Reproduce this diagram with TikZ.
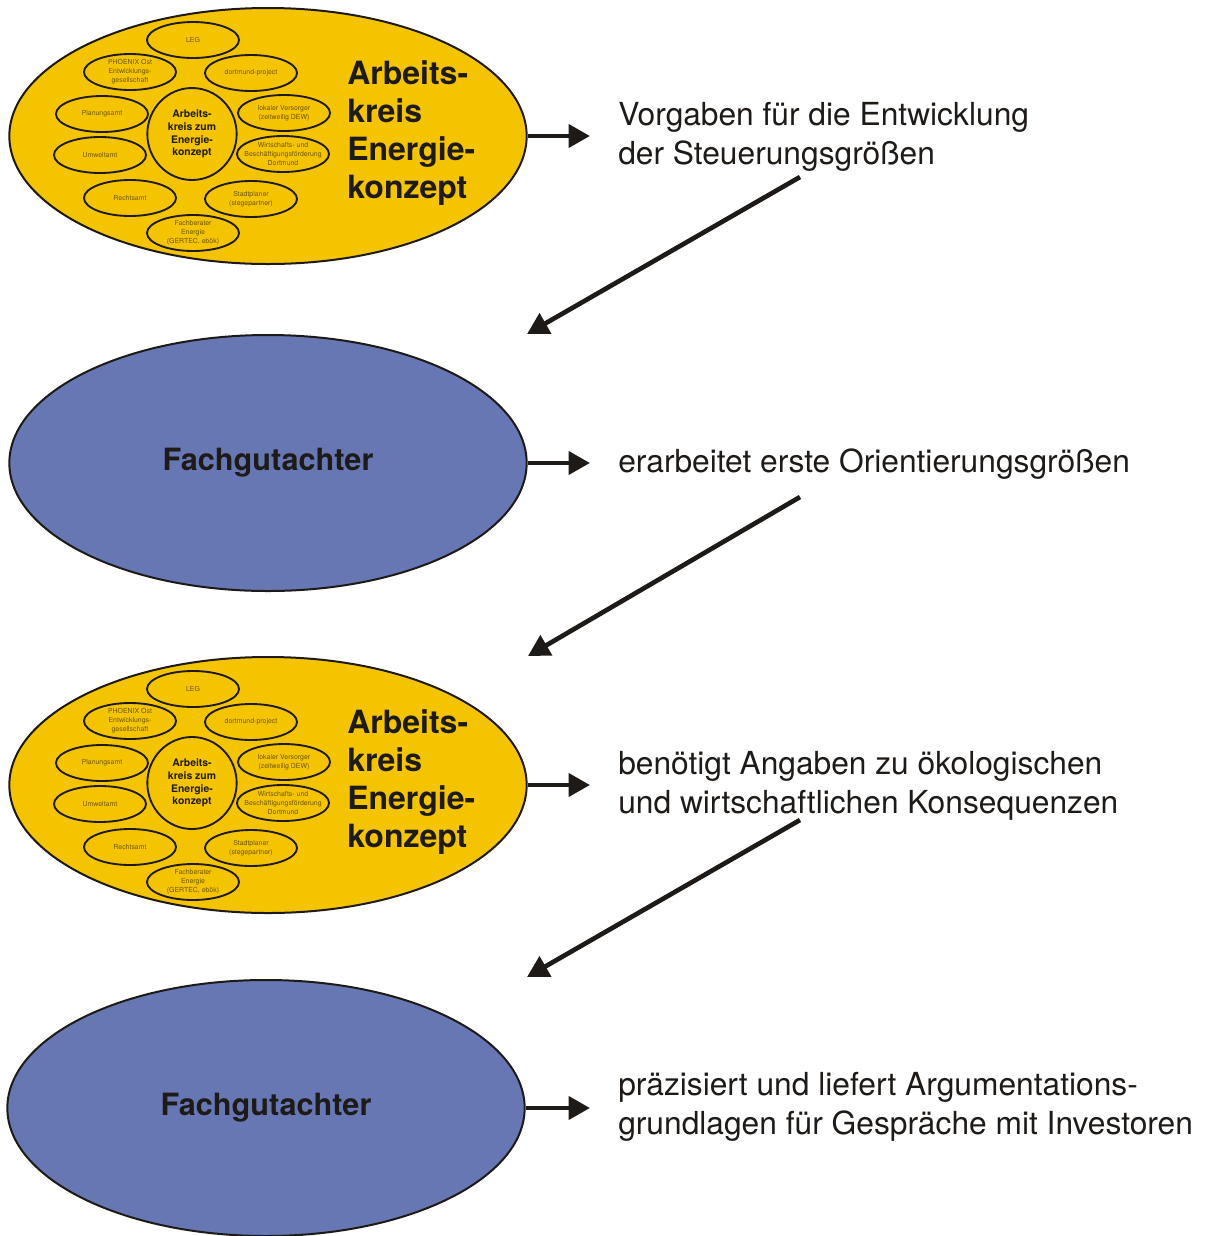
\documentclass[tikz,border=0pt]{standalone}
\usepackage{fontspec}
\setmainfont{TeX Gyre Heros}
\usetikzlibrary{shapes.geometric,arrows.meta}
\definecolor{akyellow}{HTML}{F5C400}
\definecolor{fgblue}{HTML}{6677B4}
\definecolor{smalltxt}{HTML}{6A5600}
\definecolor{ink}{HTML}{1E1A17}
\tikzset{
 bigell/.style={ellipse, draw=ink, line width=1.5pt, inner sep=0pt, minimum width=388pt, minimum height=192pt},
 akell/.style={bigell, fill=akyellow},
 fgell/.style={bigell, fill=fgblue, font=\bfseries\fontsize{23}{27}\selectfont, text=ink},
 member/.style={ellipse, draw=ink, line width=1.4pt, inner xsep=-8pt, inner ysep=-2.5pt, minimum width=69pt, minimum height=27pt, align=center, text=smalltxt, font=\fontsize{5.2}{6.8}\selectfont},
 core/.style={ellipse, draw=ink, line width=1.4pt, inner sep=0pt, minimum width=67pt, minimum height=69pt, align=center, text=ink, font=\bfseries\fontsize{7.8}{9.5}\selectfont},
 biglabel/.style={anchor=west, align=left, text=ink, font=\bfseries\fontsize{24}{28.5}\selectfont, inner sep=0pt},
 desc/.style={anchor=west, align=left, text=ink, font=\fontsize{23.8}{29}\selectfont, inner sep=0pt},
 flow/.style={draw=ink, line width=3.5pt, -{Triangle[length=16pt,width=17pt]}},
}
\newcommand\akcluster[2]{%
 \begin{scope}[shift={#2}]
  \node[akell] (#1) at (0,0) {};
  \node[member] (#1-leg) at (-75,-96) {LEG};
  \node[member] (#1-phx) at (-138,-64) {PHOENIX Ost\\Entwicklungs-\\gesellschaft};
  \node[member] (#1-dop) at (-17,-63) {dortmund-project};
  \node[member] (#1-plan) at (-166,-22) {Planungsamt};
  \node[core] (#1-core) at (-76,-2) {Arbeits-\\kreis zum\\Energie-\\konzept};
  \node[member] (#1-vers) at (16,-23) {lokaler Versorger\\(zeitweilig DEW)};
  \node[member] (#1-umw) at (-168,19) {Umweltamt};
  \node[member] (#1-wbf) at (15,18) {Wirtschafts- und\\Besch\"aftigungsf\"orderung\\Dortmund};
  \node[member] (#1-recht) at (-138,62) {Rechtsamt};
  \node[member] (#1-stadt) at (-17,63) {Stadtplaner\\(stegepartner)};
  \node[member] (#1-fach) at (-75,97) {Fachberater\\Energie\\(GERTEC, eb\"ok)};
  \node[biglabel] (#1-label) at (79,-3) {Arbeits-\\kreis\\Energie-\\konzept};
 \end{scope}}
\begin{document}
\begin{tikzpicture}[x=0.75pt,y=-0.75pt]
\useasboundingbox (0,0) rectangle (1211,1236);
\akcluster{ak1}{(268,136)}
\node[fgell] (fg1) at (268,463) {Fachgutachter};
\akcluster{ak2}{(268,785)}
\node[fgell] (fg2) at (266,1108) {Fachgutachter};

\node[desc] (t1) at (618,137) {Vorgaben f\"ur die Entwicklung\\der Steuerungsgr\"o\ss en};
\node[desc] (t2) at (618,464) {erarbeitet erste Orientierungsgr\"o\ss en};
\node[desc] (t3) at (618,786) {ben\"otigt Angaben zu \"okologischen\\und wirtschaftlichen Konsequenzen};
\node[desc] (t4) at (618,1107) {pr\"azisiert und liefert Argumentations-\\grundlagen f\"ur Gespr\"ache mit Investoren};

\coordinate (o1) at (590,136);
\coordinate (o2) at (590,463);
\coordinate (o3) at (590,785);
\coordinate (o4) at (590,1108);
\draw[flow] (ak1.east) -- (o1);
\draw[flow] (fg1.east) -- (o2);
\draw[flow] (ak2.east) -- (o3);
\draw[flow] (fg2.east |- o4) -- (o4);

\coordinate (d1s) at (800,177);
\coordinate (d1e) at (527,334);
\coordinate (d2s) at (800,497);
\coordinate (d2e) at (528,656);
\coordinate (d3s) at (800,820);
\coordinate (d3e) at (527,977);
\draw[flow] (d1s) -- (d1e);
\draw[flow] (d2s) -- (d2e);
\draw[flow] (d3s) -- (d3e);
\end{tikzpicture}
\end{document}
